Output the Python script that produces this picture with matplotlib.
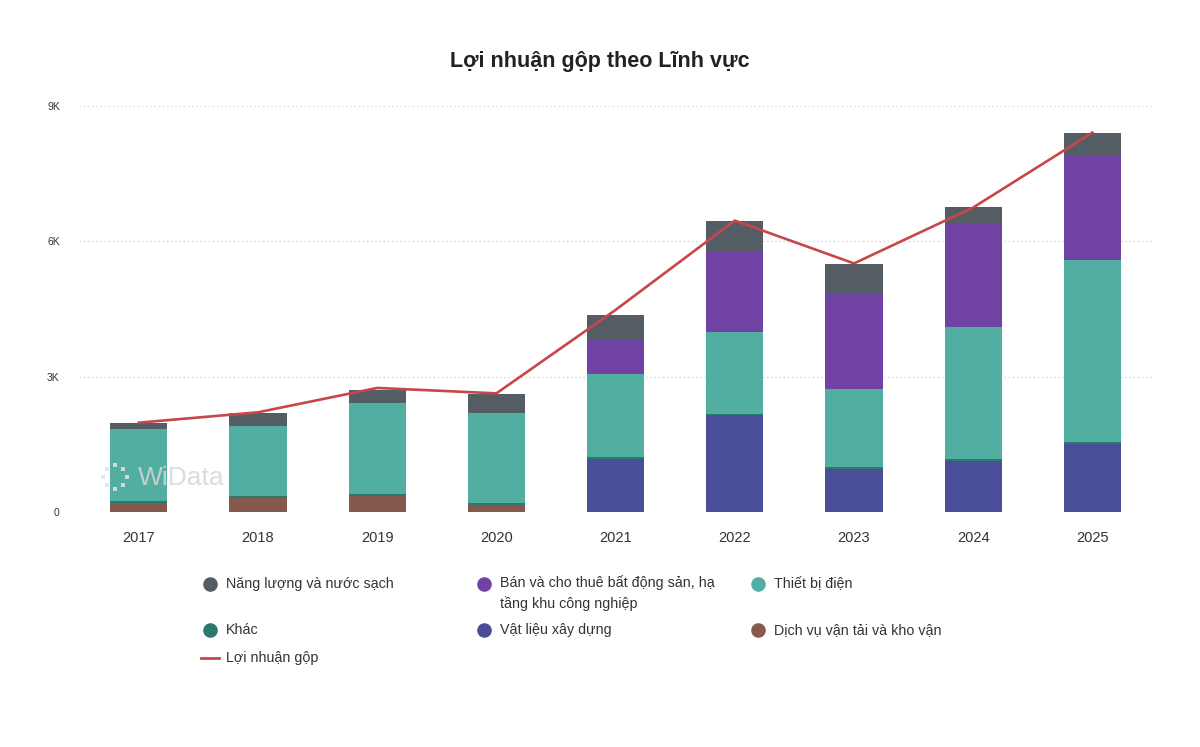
#!/usr/bin/env python3

import numpy as np
import matplotlib
matplotlib.use("Agg")
import matplotlib.pyplot as plt
from matplotlib.ticker import FuncFormatter

plt.rcParams['font.family'] = ['Liberation Sans', 'DejaVu Sans']

# Data (gross profit by segment, in billions)
years = ['2017', '2018', '2019', '2020', '2021', '2022', '2023', '2024', '2025']
van_tai = [210, 300, 350, 155, 0, 0, 0, 0, 0]
vat_lieu = [0, 0, 0, 0, 1170, 2140, 960, 1140, 1510]
khac = [40, 45, 50, 40, 60, 40, 30, 40, 40]
thiet_bi_dien = [1600, 1570, 2010, 2010, 1820, 1800, 1730, 2930, 4030]
bat_dong_san = [0, 0, 0, 0, 760, 1780, 2120, 2290, 2320]
nang_luong = [130, 280, 300, 410, 550, 680, 650, 360, 510]
loi_nhuan_gop = [1980, 2210, 2750, 2630, 4480, 6460, 5510, 6750, 8410]

# stacking order bottom -> top
series = [
    ('Dịch vụ vận tải và kho vận', van_tai, '#85594e'),
    ('Vật liệu xây dựng', vat_lieu, '#4a4e99'),
    ('Khác', khac, '#2b786c'),
    ('Thiết bị điện', thiet_bi_dien, '#53aea2'),
    ('Bán và cho thuê bất động sản, hạ\ntầng khu công nghiệp', bat_dong_san, '#6f42a4'),
    ('Năng lượng và nước sạch', nang_luong, '#545d64'),
]
line_color = '#c7464a'

fig = plt.figure(figsize=(12, 7.47), dpi=100)
ax = fig.add_axes([0.066, 0.3146, 0.894, 0.5435])

x = np.arange(len(years))
bottom = np.zeros(len(years))
for name, vals, color in series:
    vals = np.array(vals, dtype=float)
    ax.bar(x, vals, bottom=bottom, width=0.48, color=color, linewidth=0, zorder=2)
    bottom += vals

ax.plot(x, loi_nhuan_gop, color=line_color, linewidth=1.9, zorder=3)

ax.set_xlim(-0.5, len(years) - 0.5)
ax.set_ylim(0, 9000)
ax.set_yticks([0, 3000, 6000, 9000])
ax.yaxis.set_major_formatter(FuncFormatter(lambda v, p: '0' if v == 0 else f'{int(v / 1000)}K'))
ax.set_xticks(x)
ax.set_xticklabels(years)
ax.tick_params(axis='y', length=0, labelsize=7.5, labelcolor='#333333', pad=14)
ax.tick_params(axis='x', length=0, labelsize=10.5, labelcolor='#333333', pad=14)
ax.grid(axis='y', linestyle=(0, (1, 2)), color='#d8d8d8', linewidth=1.0, zorder=0)
for s in ax.spines.values():
    s.set_visible(False)

fig.text(0.5, 1 - 62 / 747, 'Lợi nhuận gộp theo Lĩnh vực', ha='center', va='center',
         fontsize=15.5, fontweight='bold', color='#222222')

# overlay in pixel coords for watermark + legend
ov = fig.add_axes([0, 0, 1, 1], facecolor='none')
ov.set_xlim(0, 1200)
ov.set_ylim(747, 0)
ov.axis('off')
ov.text(138, 478, 'WiData', fontsize=19, color='#d6d6d6', alpha=0.85, va='center', ha='left', zorder=5)
ang = np.linspace(0, 2 * np.pi, 9)[:-1]
ov.scatter(115 + 12 * np.cos(ang), 477 + 12 * np.sin(ang), s=9, marker='s',
           color='#e2e2e2', alpha=0.85, zorder=5, linewidths=0)

# legend drawn manually (3 columns)
legend_order = [5, 4, 3, 2, 1, 0]
col_x = [210, 484, 758]
row_y = [584, 630]
for i, idx in enumerate(legend_order):
    name, vals, color = series[idx]
    cx = col_x[i % 3]
    cy = row_y[i // 3]
    ov.scatter([cx], [cy], s=110, color=color, zorder=5, linewidths=0)
    if '\n' in name:
        ov.text(cx + 16, cy - 9, name, fontsize=10.3, color='#333333', va='top',
                ha='left', linespacing=1.5, zorder=5)
    else:
        ov.text(cx + 16, cy, name, fontsize=10.3, color='#333333', va='center',
                ha='left', zorder=5)
ov.plot([201, 219], [658, 658], color=line_color, linewidth=2)
ov.text(226, 658, 'Lợi nhuận gộp', fontsize=10.3, color='#333333', va='center', ha='left')

fig.savefig('out.png', dpi=100, facecolor='white')
